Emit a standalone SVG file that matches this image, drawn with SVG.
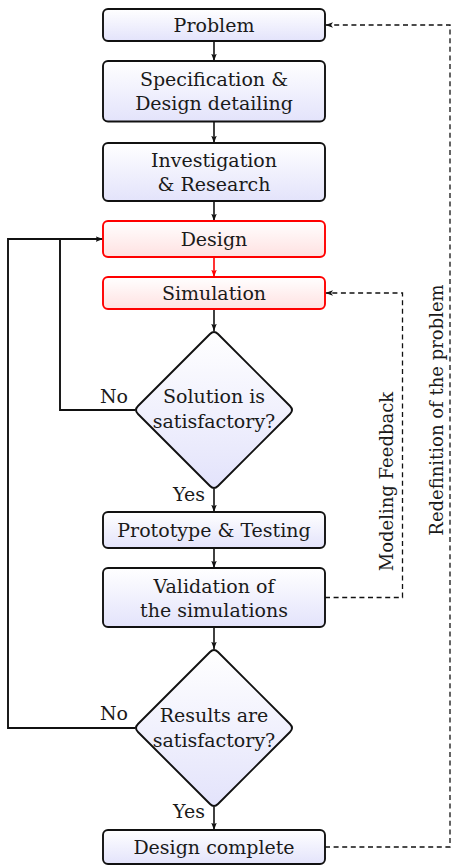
<svg xmlns="http://www.w3.org/2000/svg" width="454" height="866" viewBox="0 0 454 866">
<style>
text{font-family:"DejaVu Serif","Liberation Serif",serif;font-size:19px;fill:#1a1a1a;}
.c{text-anchor:middle;}
.e{text-anchor:end;}
.rot{font-size:18px;}
.box{fill:url(#gBlue);stroke:#111;stroke-width:1.9;}
.rbox{fill:url(#gRed);stroke:#ff0000;stroke-width:1.9;}
.ln{fill:none;stroke:#111;stroke-width:1.6;}
.lnr{fill:none;stroke:#ff0000;stroke-width:1.6;}
.loop{fill:none;stroke:#111;stroke-width:1.9;}
.dash{fill:none;stroke:#111;stroke-width:1.3;stroke-dasharray:5,3.6;}
</style>
<defs>
<linearGradient id="gBlue" x1="0" y1="0" x2="0" y2="1">
<stop offset="0" stop-color="#ffffff"/>
<stop offset="1" stop-color="#e3e3fb"/>
</linearGradient>
<linearGradient id="gRed" x1="0" y1="0" x2="0" y2="1">
<stop offset="0" stop-color="#ffffff"/>
<stop offset="1" stop-color="#ffe1e1"/>
</linearGradient>
<marker id="ah" viewBox="0 0 8 6" refX="8" refY="3" markerWidth="7.5" markerHeight="6" markerUnits="userSpaceOnUse" orient="auto">
<path d="M0,0 L8,3 L0,6 L2,3 Z" fill="#111"/>
</marker>
<marker id="ahr" viewBox="0 0 8 6" refX="8" refY="3" markerWidth="7.5" markerHeight="6" markerUnits="userSpaceOnUse" orient="auto">
<path d="M0,0 L8,3 L0,6 L2,3 Z" fill="#ff0000"/>
</marker>
</defs>

<g id="connectors">
<path class="ln" d="M214 41 V61" marker-end="url(#ah)"/>
<path class="ln" d="M214 121.5 V143" marker-end="url(#ah)"/>
<path class="ln" d="M214 201 V221" marker-end="url(#ah)"/>
<path class="lnr" d="M214 257 V277" marker-end="url(#ahr)"/>
<path class="ln" d="M214 309 V331" marker-end="url(#ah)"/>
<path class="ln" d="M214 489 V512" marker-end="url(#ah)"/>
<path class="ln" d="M214 548 V568" marker-end="url(#ah)"/>
<path class="ln" d="M214 627 V649" marker-end="url(#ah)"/>
<path class="ln" d="M214 807 V830" marker-end="url(#ah)"/>
<path class="loop" d="M135 410 H60 V239 H103" marker-end="url(#ah)"/>
<path class="loop" d="M135 728 H8 V239 H60"/>
<path class="dash" d="M325 597.5 H402.5 V293 H325.5" marker-end="url(#ah)"/>
<path class="dash" d="M325 847 H450 V25 H325.5" marker-end="url(#ah)"/>
<text x="128" y="403" class="e">No</text>
<text x="128" y="720" class="e">No</text>
<text x="205" y="501" class="e">Yes</text>
<text x="205" y="818" class="e">Yes</text>
<text class="c rot" transform="translate(393,481.5) rotate(-90)">Modeling Feedback</text>
<text class="c rot" transform="translate(443,410) rotate(-90)">Redefinition of the problem</text>
</g>

<g id="problem">
<rect class="box" x="103" y="9" width="222" height="32" rx="5"/>
<text x="214" y="32" class="c">Problem</text>
</g>
<g id="specification">
<rect class="box" x="103" y="61" width="222" height="60.5" rx="5"/>
<text x="214" y="86" class="c">Specification &amp;</text>
<text x="214" y="110" class="c">Design detailing</text>
</g>
<g id="investigation">
<rect class="box" x="103" y="143" width="222" height="58" rx="5"/>
<text x="214" y="167" class="c">Investigation</text>
<text x="214" y="191" class="c">&amp; Research</text>
</g>
<g id="design">
<rect class="rbox" x="103" y="221" width="222" height="36" rx="5"/>
<text x="214" y="246" class="c">Design</text>
</g>
<g id="simulation">
<rect class="rbox" x="103" y="277" width="222" height="32" rx="5"/>
<text x="214" y="300" class="c">Simulation</text>
</g>
<g id="decision1">
<path class="box" d="M210 334 Q214 330 218 334 L290 406 Q294 410 290 414 L218 486 Q214 490 210 486 L138 414 Q134 410 138 406 Z"/>
<text x="214" y="403" class="c">Solution is</text>
<text x="214" y="428" class="c">satisfactory?</text>
</g>
<g id="prototype">
<rect class="box" x="103" y="512" width="222" height="36" rx="5"/>
<text x="214" y="537" class="c">Prototype &amp; Testing</text>
</g>
<g id="validation">
<rect class="box" x="103" y="568" width="222" height="59" rx="5"/>
<text x="214" y="593" class="c">Validation of</text>
<text x="214" y="617" class="c">the simulations</text>
</g>
<g id="decision2">
<path class="box" d="M210 652 Q214 648 218 652 L290 724 Q294 728 290 732 L218 804 Q214 808 210 804 L138 732 Q134 728 138 724 Z"/>
<text x="214" y="721.5" class="c">Results are</text>
<text x="214" y="746.5" class="c">satisfactory?</text>
</g>
<g id="complete">
<rect class="box" x="103" y="830" width="222" height="34" rx="5"/>
<text x="214" y="854" class="c">Design complete</text>
</g>
</svg>
